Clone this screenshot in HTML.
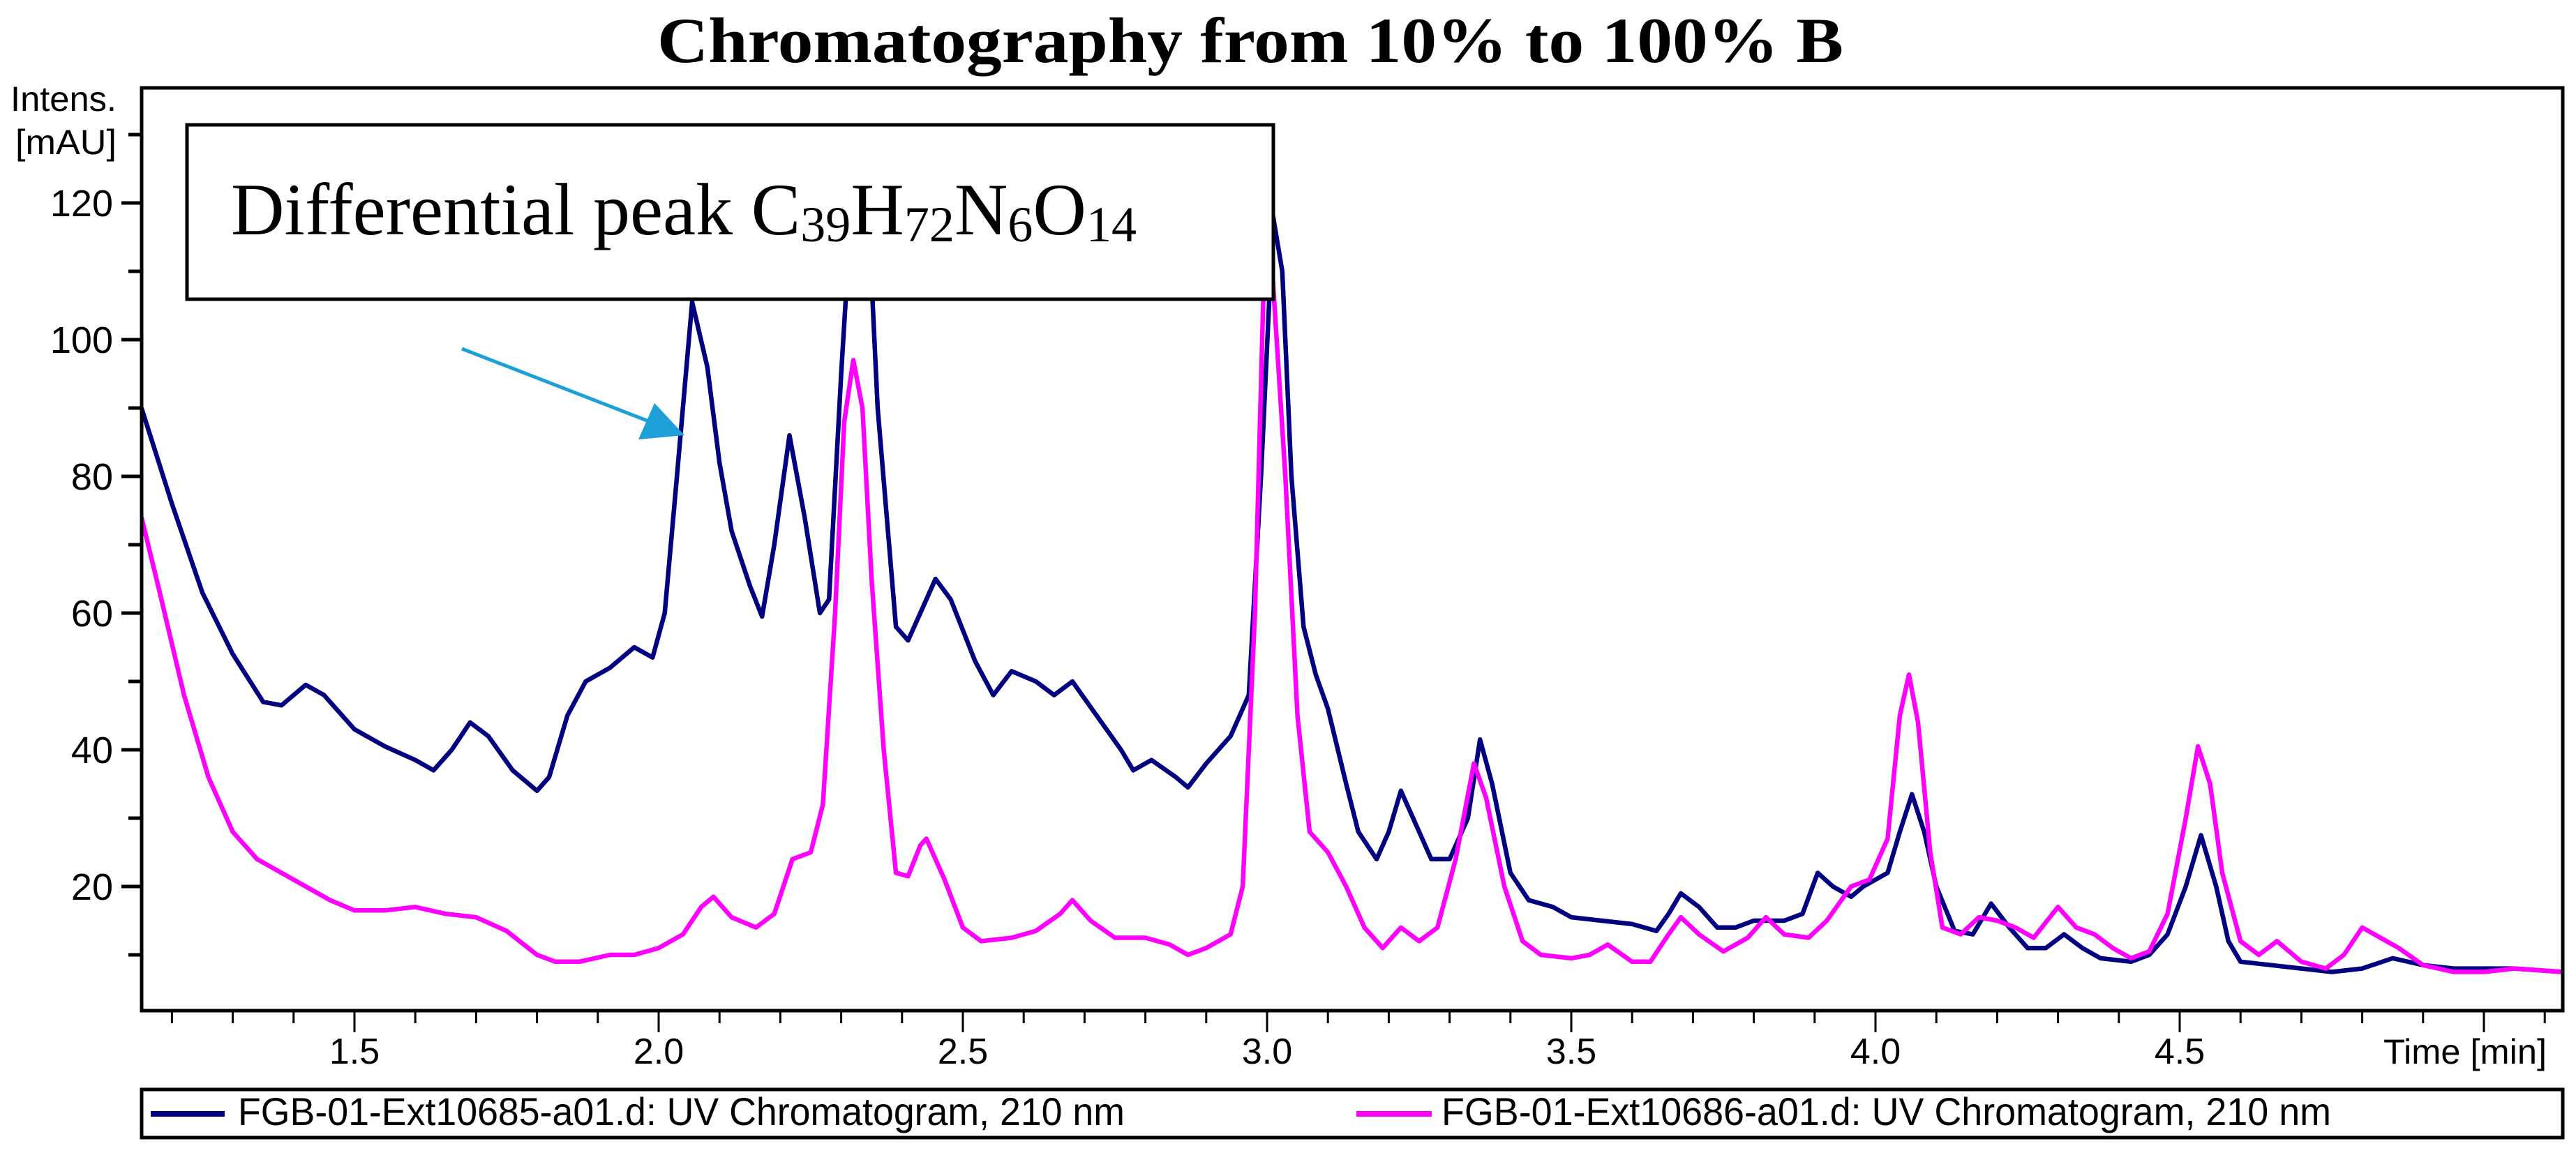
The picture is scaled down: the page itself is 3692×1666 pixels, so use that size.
<!DOCTYPE html>
<html><head><meta charset="utf-8"><style>
html,body{margin:0;padding:0;background:#fff;}
svg{display:block;}
</style></head><body>
<svg id="chart" width="3692" height="1666" viewBox="0 0 3692 1666" xmlns="http://www.w3.org/2000/svg">
<defs><clipPath id="plotclip"><rect x="205" y="128" width="3466" height="1320"/></clipPath></defs>
<rect width="3692" height="1666" fill="#fff"/>
<text x="1792" y="89" text-anchor="middle" font-family="Liberation Serif, serif" font-weight="bold" font-size="92" textLength="1700" lengthAdjust="spacingAndGlyphs">Chromatography from 10% to 100% B</text>
<text x="15" y="159" font-family="Liberation Sans, sans-serif" font-size="50" textLength="152" lengthAdjust="spacingAndGlyphs">Intens.</text>
<text x="22" y="221" font-family="Liberation Sans, sans-serif" font-size="50" textLength="145" lengthAdjust="spacingAndGlyphs">[mAU]</text>
<g id="yaxis"></g>
<g id="xaxis"></g>
<g id="series" clip-path="url(#plotclip)"></g>
<rect x="203" y="126" width="3470" height="1323" fill="none" stroke="#000" stroke-width="5"/>
<text x="3416" y="1525" font-family="Liberation Sans, sans-serif" font-size="50" textLength="234" lengthAdjust="spacingAndGlyphs">Time [min]</text>
<g>
<rect x="268" y="179" width="1557" height="250" fill="#fff" stroke="#000" stroke-width="5"/>
<text x="331" y="336" font-family="Liberation Serif, serif" font-size="106">Differential peak C<tspan font-size="72" dy="10">39</tspan><tspan dy="-10">H</tspan><tspan font-size="72" dy="10">72</tspan><tspan dy="-10">N</tspan><tspan font-size="72" dy="10">6</tspan><tspan dy="-10">O</tspan><tspan font-size="72" dy="10">14</tspan></text>
</g>
<g>
<line x1="662" y1="500" x2="935" y2="606" stroke="#1e9fd8" stroke-width="5"/>
<polygon points="981,624 915,630 938,578" fill="#1e9fd8"/>
</g>
<g>
<rect x="203" y="1562" width="3470" height="69" fill="#fff" stroke="#000" stroke-width="5"/>
<line x1="216" y1="1597" x2="322" y2="1597" stroke="#000080" stroke-width="8"/>
<text x="341" y="1613" font-family="Liberation Sans, sans-serif" font-size="56" textLength="1271" lengthAdjust="spacingAndGlyphs">FGB-01-Ext10685-a01.d: UV Chromatogram, 210 nm</text>
<line x1="1944" y1="1597" x2="2052" y2="1597" stroke="#ff00ff" stroke-width="8"/>
<text x="2066" y="1613" font-family="Liberation Sans, sans-serif" font-size="56" textLength="1275" lengthAdjust="spacingAndGlyphs">FGB-01-Ext10686-a01.d: UV Chromatogram, 210 nm</text>
</g>
</svg>
<script>
const yTickValues = [20, 40, 60, 80, 100, 120];
const yMinorValues = [10, 30, 50, 70, 90, 110, 130];
const xTickValues = [1.5, 2.0, 2.5, 3.0, 3.5, 4.0, 4.5];
const xTickLabels = ["1.5", "2.0", "2.5", "3.0", "3.5", "4.0", "4.5"];
const blueTimes = [1.15,1.2,1.25,1.3,1.35,1.38,1.42,1.45,1.5,1.55,1.6,1.63,1.66,1.69,1.72,1.76,1.8,1.82,1.85,1.88,1.92,1.96,1.99,2.01,2.03,2.055,2.08,2.1,2.12,2.15,2.17,2.19,2.215,2.24,2.265,2.28,2.3,2.32,2.345,2.36,2.39,2.41,2.43,2.455,2.48,2.52,2.55,2.58,2.62,2.65,2.68,2.72,2.76,2.78,2.81,2.85,2.87,2.9,2.94,2.97,2.99,3.01,3.025,3.04,3.06,3.08,3.1,3.13,3.15,3.18,3.2,3.22,3.24,3.27,3.3,3.33,3.35,3.37,3.4,3.43,3.47,3.5,3.55,3.6,3.64,3.66,3.68,3.71,3.74,3.77,3.8,3.85,3.88,3.905,3.93,3.96,3.98,4.0,4.02,4.04,4.06,4.08,4.1,4.13,4.16,4.19,4.22,4.25,4.28,4.31,4.34,4.37,4.42,4.45,4.48,4.51,4.535,4.56,4.58,4.6,4.65,4.7,4.75,4.8,4.85,4.9,4.95,5.05,5.13];
const blueValues = [90,76,63,54,47,46.5,49.5,48,43,40.5,38.5,37,40,44,42,37,34,36,45,50,52,55,53.5,60,80,105.5,96,82,72,64,59.5,70,86,74,60,62,95,124,118,90,58,56,60,65,62,53,48,51.5,50,48,50,45,40,37,38.5,36,34.5,38,42,48,80,118,110,80,58,51,46,35,28,24,28,34,30,24,24,30,41.5,35,22,18,17,15.5,15,14.5,13.5,16,19,17,14,14,15,15,16,22,20,18.5,20,21,22,28,33.5,28,20,13.5,13,17.5,14,11,11,13,11,9.5,9,10,13,20,27.5,20,12,9,8.5,8,7.5,8,9.5,8.5,8,8,7.5];
const magentaTimes = [1.15,1.18,1.22,1.26,1.3,1.34,1.38,1.42,1.46,1.5,1.55,1.6,1.65,1.7,1.75,1.8,1.83,1.87,1.92,1.96,2.0,2.04,2.07,2.09,2.12,2.16,2.19,2.22,2.25,2.27,2.29,2.305,2.32,2.335,2.35,2.37,2.39,2.41,2.43,2.44,2.47,2.5,2.53,2.58,2.62,2.66,2.68,2.71,2.75,2.8,2.84,2.87,2.9,2.94,2.96,2.98,2.995,3.005,3.03,3.05,3.07,3.1,3.13,3.16,3.19,3.22,3.25,3.28,3.31,3.34,3.36,3.39,3.42,3.45,3.5,3.53,3.56,3.6,3.63,3.66,3.68,3.71,3.75,3.79,3.82,3.85,3.89,3.92,3.96,3.99,4.02,4.04,4.055,4.07,4.09,4.11,4.14,4.17,4.2,4.23,4.26,4.3,4.33,4.36,4.39,4.42,4.45,4.48,4.51,4.53,4.55,4.57,4.6,4.63,4.66,4.7,4.74,4.77,4.8,4.83,4.86,4.9,4.95,5.0,5.05,5.13];
const magentaValues = [74,63,48,36,28,24,22,20,18,16.5,16.5,17,16,15.5,13.5,10,9,9,10,10,11,13,17,18.5,15.5,14,16,24,25,32,60,88,97,90,65,40,22,21.5,26,27,21,14,12,12.5,13.5,16,18,15,12.5,12.5,11.5,10,11,13,20,60,110,115,80,45,28,25,20,14,11,14,12,14,24,38,33,20,12,10,9.5,10,11.5,9,9,13,15.5,13,10.5,12.5,15.5,13,12.5,15,20,21,27,45,51,44,25,14,13,15.5,15,14,12.5,17,14,13,11,9.5,10.5,16,30,40.5,35,22,12,10,12,9,8,10,14,12.5,11,8.5,7.5,7.5,8,7.5];

const NS = "http://www.w3.org/2000/svg";
function xScale(t){ return 508 + (t - 1.5) * 872; }
function yScale(v){ return 1467 - v * 9.8; }
function mk(tag, attrs, parent){ const e = document.createElementNS(NS, tag); for (const k in attrs) e.setAttribute(k, attrs[k]); parent.appendChild(e); return e; }

const yAxis = document.getElementById('yaxis');
yTickValues.forEach(v => {
  const l = mk('line', {x1:174, x2:203, y1:yScale(v), y2:yScale(v), stroke:'#000', 'stroke-width':5}, yAxis);
  
  
  const t = mk('text', {x:162, y:yScale(v)+19, 'text-anchor':'end', 'font-family':'Liberation Sans, sans-serif', 'font-size':54}, yAxis);
  t.textContent = String(v);
  
  
});
yMinorValues.forEach(v => {
  const l = mk('line', {x1:184, x2:203, y1:yScale(v), y2:yScale(v), stroke:'#000', 'stroke-width':5}, yAxis);
  
  
});

const xAxis = document.getElementById('xaxis');
for (let i = 12; i <= 51; i++) {
  const t = i / 10;
  const major = (i % 5 === 0);
  const l = mk('line', {x1:xScale(t), x2:xScale(t), y1:1449, y2: major ? 1480 : 1467, stroke:'#000', 'stroke-width':3}, xAxis);
  
  
}
xTickValues.forEach((v, i) => {
  const t = mk('text', {x:xScale(v), y:1525, 'text-anchor':'middle', 'font-family':'Liberation Sans, sans-serif', 'font-size':52}, xAxis);
  t.textContent = xTickLabels[i];
  
  
});

const seriesG = document.getElementById('series');
function drawSeries(times, values, color, name){
  const d = times.map((t, i) => (i ? 'L' : 'M') + xScale(t).toFixed(1) + ',' + yScale(values[i]).toFixed(1)).join(' ');
  const p = mk('path', {d:d, fill:'none', stroke:color, 'stroke-width':6.5, 'stroke-linejoin':'round'}, seriesG);
  
  
}
drawSeries(blueTimes, blueValues, '#000080', 'series-ext10685');
drawSeries(magentaTimes, magentaValues, '#ff00ff', 'series-ext10686');
</script>
</body></html>
